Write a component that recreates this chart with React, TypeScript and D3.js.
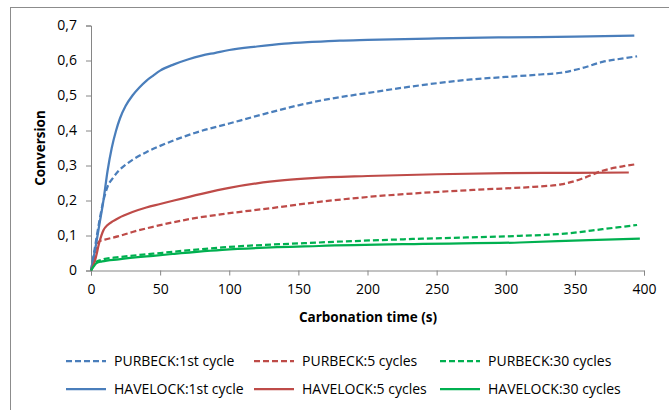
import React, { useEffect, useRef } from 'react';
import * as d3 from 'd3';

// carbonation time (s) and conversion
const havelock1T = [0, 3, 6, 9, 12, 15, 18, 21, 25, 30, 35, 40, 45, 50, 60, 70, 80, 90, 100, 120, 140, 160, 180, 200, 250, 300, 350, 393];
const havelock1V = [0, 0.06, 0.13, 0.2, 0.285, 0.35, 0.398, 0.435, 0.47, 0.5, 0.523, 0.542, 0.557, 0.571, 0.589, 0.603, 0.614, 0.622, 0.63, 0.64, 0.648, 0.653, 0.657, 0.659, 0.663, 0.666, 0.668, 0.671];

const purbeck1T = [0, 3, 6, 9, 12, 16, 20, 25, 30, 40, 50, 60, 75, 100, 125, 150, 175, 200, 225, 250, 275, 300, 325, 340, 355, 370, 385, 395];
const purbeck1V = [0, 0.07, 0.14, 0.2, 0.24, 0.265, 0.285, 0.302, 0.316, 0.338, 0.356, 0.372, 0.393, 0.42, 0.447, 0.472, 0.492, 0.507, 0.522, 0.535, 0.546, 0.553, 0.56, 0.565, 0.578, 0.596, 0.606, 0.612];

const havelock5T = [0, 3, 6, 9, 12, 16, 20, 30, 40, 50, 60, 80, 100, 120, 140, 160, 200, 250, 300, 350, 389];
const havelock5V = [0, 0.03, 0.08, 0.115, 0.13, 0.141, 0.15, 0.167, 0.18, 0.19, 0.2, 0.219, 0.236, 0.249, 0.258, 0.264, 0.27, 0.275, 0.278, 0.279, 0.28];

const purbeck5T = [0, 2, 4, 6, 10, 20, 30, 45, 70, 95, 130, 165, 200, 240, 285, 320, 340, 355, 370, 385, 395];
const purbeck5V = [0, 0.03, 0.07, 0.083, 0.088, 0.098, 0.11, 0.125, 0.146, 0.161, 0.178, 0.196, 0.21, 0.222, 0.232, 0.239, 0.246, 0.262, 0.285, 0.298, 0.304];

const purbeck30T = [0, 2, 4, 8, 20, 45, 95, 165, 240, 310, 345, 370, 395];
const purbeck30V = [0, 0.015, 0.025, 0.031, 0.038, 0.048, 0.066, 0.08, 0.091, 0.099, 0.106, 0.118, 0.13];

const havelock30T = [0, 2, 4, 8, 20, 45, 95, 165, 240, 310, 360, 397];
const havelock30V = [0, 0.012, 0.021, 0.026, 0.032, 0.042, 0.059, 0.07, 0.076, 0.08, 0.087, 0.091];

const xTicks = [0, 50, 100, 150, 200, 250, 300, 350, 400];
const yTicks = [0, 0.1, 0.2, 0.3, 0.4, 0.5, 0.6, 0.7];

const blue = '#4A7EBB';
const red = '#BE4B48';
const green = '#00B050';

const series = [
  { name: 'PURBECK:1st cycle', t: purbeck1T, v: purbeck1V, color: blue, dashed: true },
  { name: 'PURBECK:5 cycles', t: purbeck5T, v: purbeck5V, color: red, dashed: true },
  { name: 'PURBECK:30 cycles', t: purbeck30T, v: purbeck30V, color: green, dashed: true },
  { name: 'HAVELOCK:1st cycle', t: havelock1T, v: havelock1V, color: blue, dashed: false },
  { name: 'HAVELOCK:5 cycles', t: havelock5T, v: havelock5V, color: red, dashed: false },
  { name: 'HAVELOCK:30 cycles', t: havelock30T, v: havelock30V, color: green, dashed: false },
];

const font = 'Open Sans, sans-serif';

export default function App() {
  const ref = useRef<SVGSVGElement>(null);

  useEffect(() => {
    const svg = d3.select(ref.current);
    svg.selectAll('*').remove();

    const x = d3.scaleLinear().domain([0, 400]).range([91, 644]);
    const y = d3.scaleLinear().domain([0, 0.7]).range([270.5, 25.5]);

    // chart frame
    svg.append('rect')
      .attr('x', 10.5).attr('y', 7.5)
      .attr('width', 700).attr('height', 450)
      .attr('fill', 'white').attr('stroke', '#8c8c8c');

    const fmt = (d: number) => (d === 0 ? '0' : d3.format('.1f')(d).replace('.', ','));

    const xAxis = svg.append('g')
      .attr('transform', `translate(0,${y(0)})`)
      .call(d3.axisBottom(x).tickValues(xTicks).tickSize(5).tickPadding(9).tickFormat(d3.format('d') as any));
    const yAxis = svg.append('g')
      .attr('transform', `translate(${x(0)},0)`)
      .call(d3.axisLeft(y).tickValues(yTicks).tickSize(5).tickPadding(9).tickFormat(fmt as any));

    [xAxis, yAxis].forEach(g => {
      g.select('.domain').attr('stroke', '#868686');
      g.selectAll('.tick line').attr('stroke', '#868686');
      g.selectAll('.tick text')
        .attr('fill', '#000')
        .style('font-family', font)
        .style('font-size', '14px');
    });

    const line = d3.line<[number, number]>()
      .x(d => x(d[0]))
      .y(d => y(d[1]))
      .curve(d3.curveMonotoneX);

    series.forEach(s => {
      const pts = s.t.map((t, i) => [t, s.v[i]] as [number, number]);
      svg.append('path')
        .attr('d', line(pts))
        .attr('fill', 'none')
        .attr('stroke', s.color)
        .attr('stroke-width', 2.25)
        .attr('stroke-dasharray', s.dashed ? '6,3' : null);
    });

    svg.append('text')
      .attr('x', 368).attr('y', 322)
      .attr('text-anchor', 'middle')
      .style('font-family', font).style('font-size', '13.5px').style('font-weight', 'bold')
      .text('Carbonation time (s)');

    svg.append('text')
      .attr('transform', 'translate(45,148) rotate(-90)')
      .attr('text-anchor', 'middle')
      .style('font-family', font).style('font-size', '13.5px').style('font-weight', 'bold')
      .text('Conversion');

    // legend, 3 columns x 2 rows
    const colX = [66, 254, 440];
    const rowY = [361, 389];
    series.forEach((s, i) => {
      const cx = colX[i % 3];
      const cy = rowY[Math.floor(i / 3)];
      svg.append('line')
        .attr('x1', cx).attr('x2', cx + 40)
        .attr('y1', cy).attr('y2', cy)
        .attr('stroke', s.color)
        .attr('stroke-width', 2.25)
        .attr('stroke-dasharray', s.dashed ? '6,3' : null);
      svg.append('text')
        .attr('x', cx + 48).attr('y', cy)
        .attr('dy', '0.35em')
        .style('font-family', font).style('font-size', '14px')
        .text(s.name);
    });
  }, []);

  return (
    <svg ref={ref} width={669} height={410} style={{ position: 'absolute', left: 0, top: 0, background: 'white' }} />
  );
}
